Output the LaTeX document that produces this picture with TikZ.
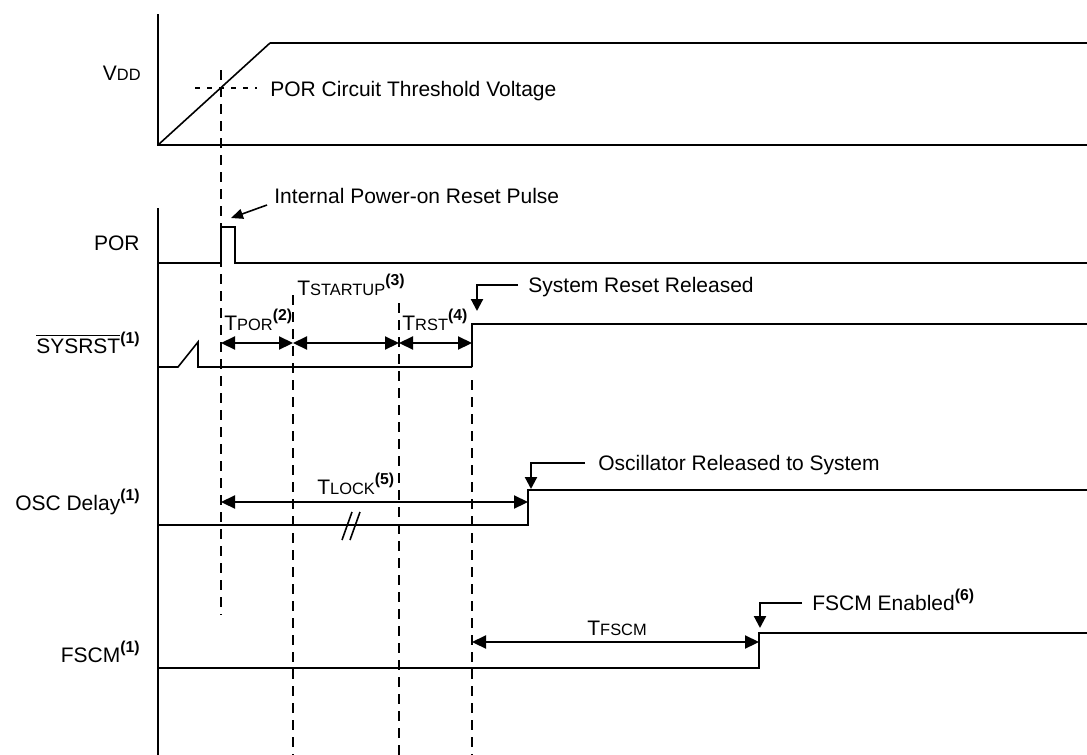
\documentclass[tikz,border=0pt]{standalone}
\usepackage{fontspec}
\setmainfont{Liberation Sans}
\usetikzlibrary{arrows.meta}
\newcommand{\smc}[1]{{\fontsize{8.2}{10}\selectfont #1}}
\newcommand{\supn}[1]{\raisebox{0.85ex}{\fontsize{7.9}{9}\selectfont\bfseries #1}}
\begin{document}
\begin{tikzpicture}[x=0.5pt,y=-0.5pt,
  sig/.style={line width=1.2pt},
  thin/.style={line width=0.8pt},
  dashv/.style={line width=1.2pt, dash pattern=on 5pt off 3.5pt},
  dots/.style={line width=0.9pt, dash pattern=on 2.5pt off 3.5pt},
  dim/.style={line width=1.1pt,{Triangle[length=7pt,width=6.5pt]}-{Triangle[length=7pt,width=6.5pt]}},
  ptr/.style={line width=1.1pt,-{Triangle[length=6pt,width=6pt]}},
  lbl/.style={font=\fontsize{10.5}{12}\selectfont, inner sep=0pt}]
\useasboundingbox (0,0) rectangle (1087,755);
% coordinates
\coordinate (a1) at (221,70);
\coordinate (a1e) at (221,615);
\coordinate (a2) at (293,295);
\coordinate (a2e) at (293,755);
\coordinate (a3) at (399,303);
\coordinate (a3e) at (399,755);
\coordinate (a4) at (472,380);
\coordinate (a4e) at (472,755);
% VDD
\draw[sig] (158,14) -- (158,145) -- (1087,145);
\draw[thin] (158,145) -- (270,43);
\draw[sig] (270,43) -- (1087,43);
\draw[dots] (195,88) -- (257,88);
\node[lbl, anchor=base west] (thr) at (270,96) {POR Circuit Threshold Voltage};
% left axis lower
\draw[sig] (158,208) -- (158,755);
% POR
\draw[sig] (158,263) -- (221,263) -- (221,227) -- (235,227) -- (235,263) -- (1087,263);
\node[lbl, anchor=base west] (iprp) at (274,203) {Internal Power-on Reset Pulse};
\coordinate (iprpS) at (267,205);
\coordinate (iprpE) at (231,218);
\draw[thin,-{Triangle[length=6pt,width=5pt]}] (iprpS) -- (iprpE);
% SYSRST
\draw[thin] (158,367) -- (178,367) -- (198,342) -- (198,367) -- (472,367);
\draw[sig] (472,367) -- (472,324) -- (1087,324);
% OSC
\draw[sig] (158,525) -- (528,525) -- (528,490) -- (1087,490);
\draw[thin] (342,540) -- (352,512);
\draw[thin] (350,540) -- (360,512);
% FSCM
\draw[sig] (158,668) -- (759,668) -- (759,633) -- (1087,633);
% dashed verticals
\draw[dashv] (a1) -- (a1e);
\draw[dashv] (a2) -- (a2e);
\draw[dashv] (a3) -- (a3e);
\draw[dashv] (a4) -- (a4e);
% dimension arrows
\coordinate (d1) at (221,343);
\coordinate (d2) at (293,343);
\coordinate (d3) at (399,343);
\coordinate (d4) at (472,343);
\draw[dim] (d1) -- (d2);
\draw[dim] (d2) -- (d3);
\draw[dim] (d3) -- (d4);
\node[lbl, anchor=base west] (tpor) at (224,330) {T\smc{POR}\supn{(2)}};
\node[lbl, anchor=base west] (tst) at (297,295) {T\smc{STARTUP}\supn{(3)}};
\node[lbl, anchor=base west] (trst) at (402,330) {T\smc{RST}\supn{(4)}};
\coordinate (l1) at (221,502);
\coordinate (l2) at (528,502);
\draw[dim] (l1) -- (l2);
\node[lbl, anchor=base west] (tlock) at (317,494) {T\smc{LOCK}\supn{(5)}};
\coordinate (f1) at (472,642);
\coordinate (f2) at (759,642);
\draw[dim] (f1) -- (f2);
\node[lbl, anchor=base west] (tfscm) at (587,635) {T\smc{FSCM}};
% pointers
\node[lbl, anchor=base west] (srr) at (528,292) {System Reset Released};
\coordinate (srrS) at (518,285);
\coordinate (srrE) at (477,311);
\draw[ptr] (srrS) -| (srrE);
\node[lbl, anchor=base west] (ors) at (598,470) {Oscillator Released to System};
\coordinate (orsS) at (585,463);
\coordinate (orsE) at (531,489);
\draw[ptr] (orsS) -| (orsE);
\node[lbl, anchor=base west] (fen) at (812,610) {FSCM Enabled\supn{(6)}};
\coordinate (fenS) at (802,603);
\coordinate (fenE) at (760,628);
\draw[ptr] (fenS) -| (fenE);
% signal labels
\node[lbl, anchor=base east] (lvdd) at (141,80) {V\smc{DD}};
\node[lbl, anchor=base east] (lpor) at (140,250) {POR};
\node[lbl, anchor=base east] (lsys) at (140,353) {$\overline{\mbox{SYSRST}}$\supn{(1)}};
\node[lbl, anchor=base east] (losc) at (140,510) {OSC Delay\supn{(1)}};
\node[lbl, anchor=base east] (lfscm) at (140,662) {FSCM\supn{(1)}};
\end{tikzpicture}
\end{document}
